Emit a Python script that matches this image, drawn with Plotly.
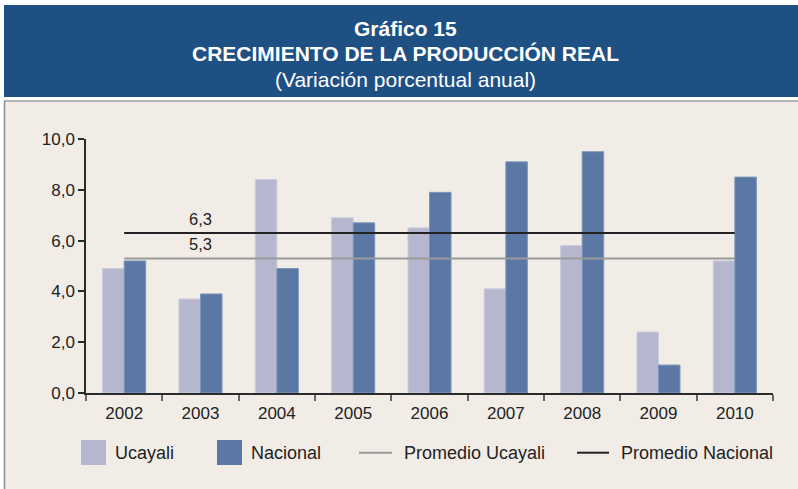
import plotly.graph_objects as go

# ---------------- data ----------------
years = ["2002", "2003", "2004", "2005", "2006", "2007", "2008", "2009", "2010"]
ucayali = [4.9, 3.7, 8.4, 6.9, 6.5, 4.1, 5.8, 2.4, 5.2]
nacional = [5.2, 3.9, 4.9, 6.7, 7.9, 9.1, 9.5, 1.1, 8.5]
prom_ucayali = 5.3
prom_nacional = 6.3
y_ticks = [0, 2, 4, 6, 8, 10]

# ---------------- style ----------------
W, H = 798, 489
L, R, T, B = 86, 773, 139, 393  # plot area in pixels
C_BANNER = "#1f5084"
C_BG = "#f1ede6"
C_UCA = "#b6b7cf"
C_NAC = "#5b78a4"
C_AVG_U = "#9a9a9a"
C_AVG_N = "#222222"
FONT = "Liberation Sans, Arial, sans-serif"
TXT = "#222222"


def px_x(x):
    return (x - L) / (R - L)


def px_y(y):
    return (B - y) / (B - T)


fig = go.Figure()

fig.add_trace(go.Bar(x=years, y=ucayali, name="Ucayali",
                     marker=dict(color=C_UCA, line=dict(color="#c9cadc", width=1))))
fig.add_trace(go.Bar(x=years, y=nacional, name="Nacional",
                     marker=dict(color=C_NAC, line=dict(color="#7d95bb", width=1))))
fig.add_trace(go.Scatter(x=[years[0], years[-1]], y=[prom_ucayali, prom_ucayali],
                         mode="lines", name="Promedio Ucayali",
                         line=dict(color=C_AVG_U, width=2)))
fig.add_trace(go.Scatter(x=[years[0], years[-1]], y=[prom_nacional, prom_nacional],
                         mode="lines", name="Promedio Nacional",
                         line=dict(color=C_AVG_N, width=2)))

shapes = []
# beige panel
shapes.append(dict(type="rect", xref="paper", yref="paper", layer="below",
                   x0=px_x(4), x1=px_x(W + 2), y0=px_y(H + 2), y1=px_y(101),
                   fillcolor=C_BG, line=dict(width=0)))
# panel borders (top and left)
shapes.append(dict(type="line", xref="paper", yref="paper", layer="below",
                   x0=px_x(4), x1=px_x(W + 2), y0=px_y(101), y1=px_y(101),
                   line=dict(color="#b4b4b4", width=2)))
shapes.append(dict(type="line", xref="paper", yref="paper", layer="below",
                   x0=px_x(4.5), x1=px_x(4.5), y0=px_y(101), y1=px_y(H + 2),
                   line=dict(color="#8c8c8c", width=1.5)))
# title banner
shapes.append(dict(type="rect", xref="paper", yref="paper", layer="below",
                   x0=px_x(4), x1=px_x(W + 2), y0=px_y(97), y1=px_y(5),
                   fillcolor=C_BANNER, line=dict(width=0)))

annotations = []
title_lines = [("<b>Gráfico 15</b>", 28.5), ("<b>CRECIMIENTO DE LA PRODUCCIÓN REAL</b>", 53.5),
               ("(Variación porcentual anual)", 79.5)]
for txt, yy in title_lines:
    annotations.append(dict(text=txt, xref="paper", yref="paper", x=px_x(405), y=px_y(yy),
                            xanchor="center", yanchor="middle", showarrow=False,
                            font=dict(family=FONT, size=21, color="white")))

# average labels (placed over the 2003 category, index 1)
for val in (prom_nacional, prom_ucayali):
    annotations.append(dict(text=f"{val:.1f}".replace(".", ","), xref="x", yref="y",
                            x=years.index("2003"), y=val, yshift=14,
                            xanchor="center", yanchor="middle",
                            showarrow=False, font=dict(family=FONT, size=16.5, color=TXT)))

# manual legend
LEG_Y = 452.7
legend_items = [
    ("box", C_UCA, 81, 106, 113, "Ucayali"),
    ("box", C_NAC, 217, 242, 249, "Nacional"),
    ("line", C_AVG_U, 359, 392, 402, "Promedio Ucayali"),
    ("line", C_AVG_N, 577, 609, 619, "Promedio Nacional"),
]
for kind, col, x0, x1, tx, label in legend_items:
    if kind == "box":
        shapes.append(dict(type="rect", xref="paper", yref="paper",
                           x0=px_x(x0), x1=px_x(x1), y0=px_y(465), y1=px_y(440),
                           fillcolor=col, line=dict(width=0)))
    else:
        shapes.append(dict(type="line", xref="paper", yref="paper",
                           x0=px_x(x0), x1=px_x(x1), y0=px_y(LEG_Y), y1=px_y(LEG_Y),
                           line=dict(color=col, width=2)))
    annotations.append(dict(text=label, xref="paper", yref="paper", x=px_x(tx), y=px_y(LEG_Y),
                            xanchor="left", yanchor="middle", showarrow=False,
                            font=dict(family=FONT, size=18, color=TXT)))

fig.update_layout(
    width=W, height=H, autosize=False,
    margin=dict(l=L, r=W - R, t=T, b=H - B, pad=0),
    paper_bgcolor="white", plot_bgcolor="rgba(0,0,0,0)",
    barmode="group", bargap=0.436, bargroupgap=0,
    showlegend=False, separators=",.",
    font=dict(family=FONT, color=TXT),
    shapes=shapes, annotations=annotations,
)
fig.update_xaxes(type="category", range=[-0.5, len(years) - 0.5], automargin=False,
                 showgrid=False, zeroline=False,
                 showline=True, linecolor="#2a2a2a", linewidth=1.5,
                 ticks="outside", tickson="boundaries", ticklen=6, tickcolor="#666666",
                 tickwidth=1.5, tickangle=0, ticklabelstandoff=4,
                 tickfont=dict(family=FONT, size=17, color=TXT))
fig.update_yaxes(range=[0, 10], tickvals=y_ticks, tickformat=".1f", automargin=False,
                 showgrid=False, zeroline=False, showline=True,
                 linecolor="#2a2a2a", linewidth=1.5, ticks="outside", ticklen=6,
                 tickcolor="#2a2a2a", tickwidth=1.5,
                 tickfont=dict(family=FONT, size=17, color=TXT))

fig.write_html("out.html", config={"displayModeBar": False},
               post_script="document.body.style.margin='0';")
